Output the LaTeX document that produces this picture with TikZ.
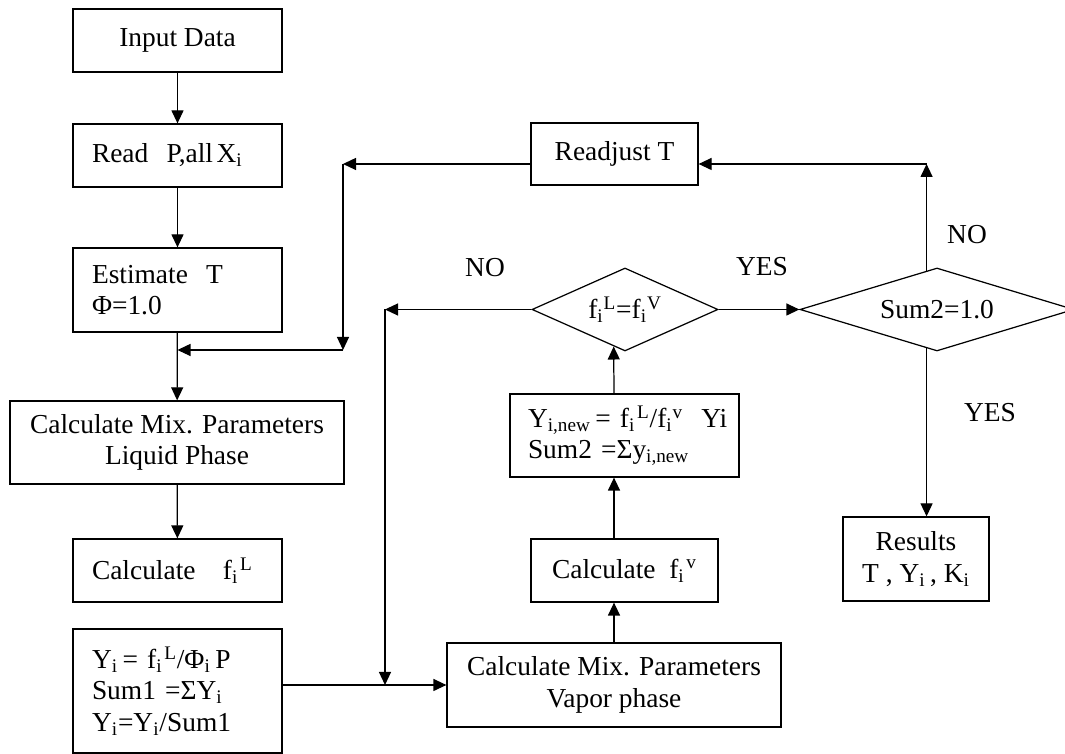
\documentclass[tikz,border=0pt]{standalone}
\usepackage{fontspec}
\setmainfont{Liberation Serif}
\usetikzlibrary{arrows.meta,shapes.geometric}

\tikzset{
  box/.style={draw, inner sep=0pt, align=center},
  lbox/.style={draw, inner xsep=0.38cm, inner ysep=0pt, align=left},
  test/.style={draw, diamond, inner sep=0pt},
}

\begin{document}
\begin{tikzpicture}[line width=0.7pt, font=\fontsize{15.6}{17.8}\selectfont,
  >={Triangle[length=0.26cm,width=0.24cm]}]
  \useasboundingbox (0,0) rectangle (21.3,15.08);
  % left column
  \node[box, minimum width=4.18cm, minimum height=1.26cm] (input) at (3.55,14.27) {Input Data};
  \node[lbox, text width=3.42cm, minimum height=1.26cm] (read) at (3.55,11.97) {Read\ \ P,all\kern2pt X\textsubscript{i}};
  \node[lbox, text width=3.42cm, minimum height=1.68cm] (estim) at (3.55,9.28) {Estimate\ \ T\\Φ=1.0};
  \node[box, minimum width=6.68cm, minimum height=1.66cm] (liqmix) at (3.54,6.23) {Calculate Mix. Parameters\\Liquid Phase};
  \node[lbox, text width=3.42cm, minimum height=1.26cm] (calcL) at (3.55,3.67) {Calculate\ \ \ f\textsubscript{i}\kern1pt\textsuperscript{L}};
  \node[lbox, text width=3.42cm, minimum height=2.48cm] (ycalc) at (3.55,1.26) {Y\textsubscript{i}\,= f\textsubscript{i}\kern1pt\textsuperscript{L}/Φ\textsubscript{i}\,P\\Sum1 =ΣY\textsubscript{i}\\Y\textsubscript{i}=Y\textsubscript{i}/Sum1};
  % right part
  \node[box, minimum width=3.34cm, minimum height=1.24cm] (readj) at (12.29,12.00) {Readjust T};
  \node[test, aspect=2.24, minimum width=3.72cm, minimum height=1.66cm] (eqtest) at (12.50,8.89) {f\textsubscript{i}\textsuperscript{L}=f\textsubscript{i}\textsuperscript{V}};
  \node[test, aspect=3.3, minimum width=5.48cm, minimum height=1.66cm] (sumtest) at (18.74,8.89) {Sum2=1.0};
  \node[lbox, text width=3.86cm, inner xsep=0.36cm, minimum height=1.66cm] (ynew) at (12.49,6.37) {\mbox{Y\textsubscript{i,new}\,= f\textsubscript{i}\kern1pt\textsuperscript{L}/f\textsubscript{i}\textsuperscript{v}\ \ Yi}\\Sum2 =Σy\textsubscript{i,new}};
  \node[box, minimum width=3.74cm, minimum height=1.26cm] (calcV) at (12.49,3.67) {Calculate\ \ f\textsubscript{i}\kern1pt\textsuperscript{v}};
  \node[box, minimum width=6.68cm, minimum height=1.68cm] (vapmix) at (12.28,1.38) {Calculate Mix. Parameters\\Vapor phase};
  \node[box, minimum width=2.92cm, minimum height=1.68cm] (results) at (18.32,3.90) {Results\\T , Y\textsubscript{i}\,, K\textsubscript{i}};
  % labels
  \node (no1) at (9.70,9.72) {NO};
  \node (yes1) at (15.24,9.74) {YES};
  \node (no2) at (19.34,10.38) {NO};
  \node (yes2) at (19.80,6.82) {YES};
  % corners
  \coordinate (fbline) at (0,11.80);
  \coordinate (fbtop) at (6.86,11.80);
  \coordinate (fbbot) at (6.86,8.08);
  \coordinate (nojn) at (7.70,8.89);
  % arrows
  \draw[->] (input) -- (read);
  \draw[->] (read) -- (estim);
  \draw[->] (estim) -- (liqmix);
  \draw[->] (liqmix) -- (calcL);
  \draw[->] (ycalc.east |- vapmix.west) -- (vapmix.west);
  \draw[->] (vapmix.north) -- (vapmix.north |- calcV.south);
  \draw[->] (calcV.north -| vapmix.north) -- (ynew.south -| vapmix.north);
  \draw[->] (ynew.north -| vapmix.north) -- (eqtest.253);
  \draw[->] (eqtest) -- (sumtest);
  \draw[->] (eqtest) -- (nojn);
  \draw[->] (nojn) -- (nojn |- vapmix.west);
  \draw[->] (sumtest.105) -- (sumtest.105 |- fbline);
  \draw[->] (sumtest.105 |- fbline) -- (readj.east |- fbline);
  \draw[->] (readj.west |- fbline) -- (fbtop);
  \draw[->] (fbtop) -- (fbbot);
  \draw[->] (fbbot) -- (fbbot -| estim.south);
  \draw[->] (sumtest.255) -- (sumtest.255 |- results.north);
\end{tikzpicture}
\end{document}
